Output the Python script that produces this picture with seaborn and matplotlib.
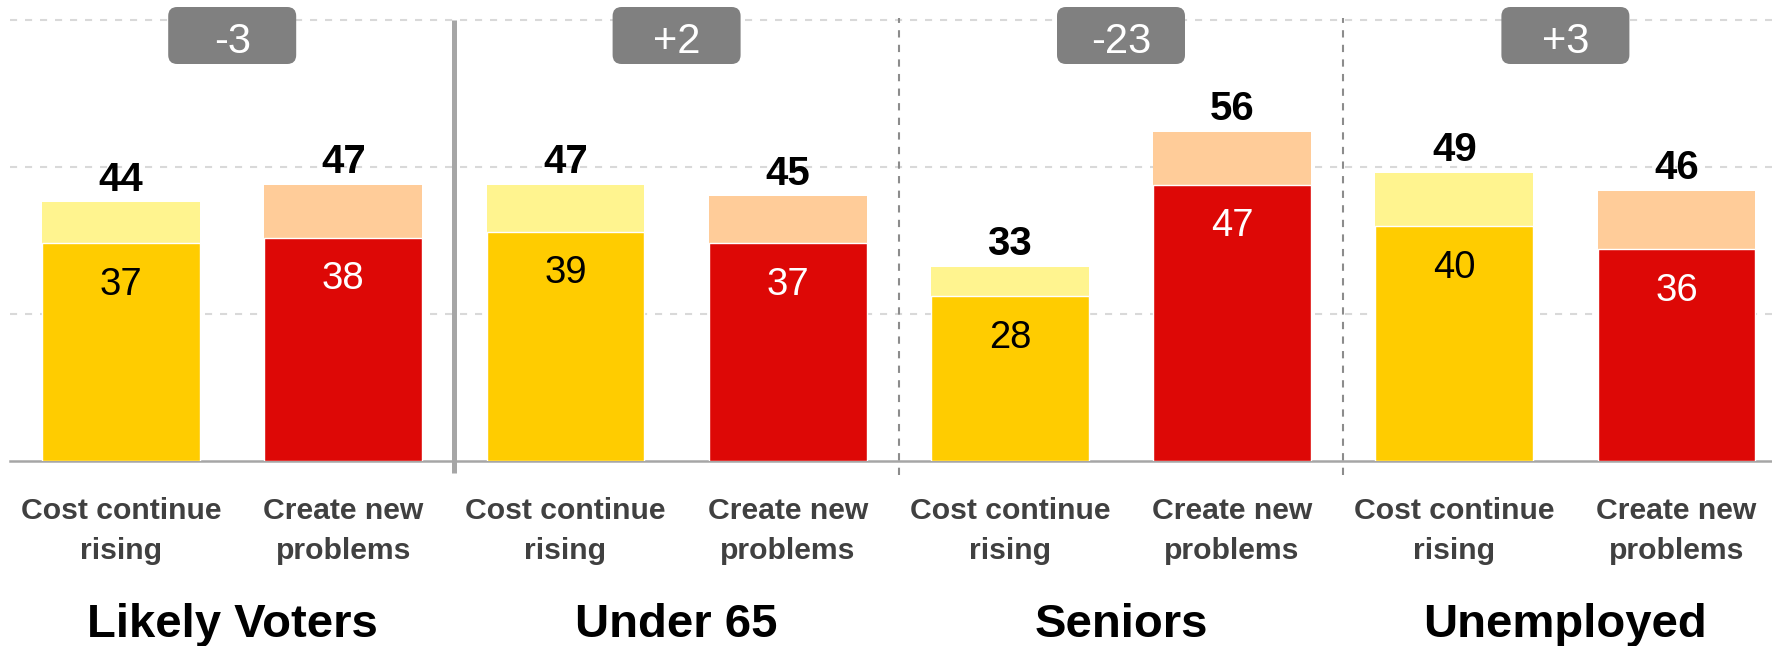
import matplotlib
matplotlib.use("Agg")
import matplotlib.pyplot as plt
from matplotlib.patches import FancyBboxPatch
import seaborn as sns
import pandas as pd

# ---- data ----
groups = ["Likely Voters", "Under 65", "Seniors", "Unemployed"]
categories = ["Cost continue\nrising", "Create new\nproblems"]
total_cost = [44, 47, 33, 49]
total_problems = [47, 45, 56, 46]
strong_cost = [37, 39, 28, 40]
strong_problems = [38, 37, 47, 36]
differences = ["-3", "+2", "-23", "+3"]

light_colors = ["#FFF48F", "#FFCC99"]
dark_colors = ["#FFCC00", "#DD0806"]
inner_text_colors = ["black", "white"]

rows = []
for g, tc, tp, sc, sp in zip(groups, total_cost, total_problems, strong_cost, strong_problems):
    rows.append({"bar": g + "|cost", "group": g, "cat": categories[0], "total": tc, "strong": sc, "k": 0})
    rows.append({"bar": g + "|prob", "group": g, "cat": categories[1], "total": tp, "strong": sp, "k": 1})
df = pd.DataFrame(rows)

sns.set_theme(style="white")
plt.rcParams["font.family"] = ["Liberation Sans", "DejaVu Sans"]

W, H, DPI = 17.72, 6.46, 100
fig = plt.figure(figsize=(W, H), dpi=DPI)
ax = fig.add_axes([10 / 1772, (646 - 461) / 646, 1 - 10 / 1772, 461 / 646])

light_pal = [light_colors[k] for k in df["k"]]
dark_pal = [dark_colors[k] for k in df["k"]]

sns.barplot(data=df, x="bar", y="total", hue="bar", palette=light_pal, width=0.71,
            saturation=1, legend=False, ax=ax, order=list(df["bar"]), hue_order=list(df["bar"]),
            edgecolor="none", linewidth=0, zorder=2)
sns.barplot(data=df, x="bar", y="strong", hue="bar", palette=dark_pal, width=0.71,
            saturation=1, legend=False, ax=ax, order=list(df["bar"]), hue_order=list(df["bar"]),
            edgecolor="white", linewidth=1.0, zorder=3)

n = len(df)
ax.set_xlim(-0.5, -0.5 + 1762 / 222.2)
ax.set_ylim(0, 78.4)

# value labels
for i, r in df.iterrows():
    ax.text(i, r["total"] + 2.0, str(r["total"]), ha="center", va="baseline",
            fontsize=29, fontweight="bold", color="black", zorder=5)
    ax.text(i, r["strong"] - 8.8, str(r["strong"]), ha="center", va="baseline",
            fontsize=27.5, color=inner_text_colors[r["k"]], zorder=5)

# grid
ax.set_yticks([25, 50, 75])
ax.set_yticklabels([])
ax.tick_params(axis="y", length=0)
ax.yaxis.grid(True, color="#D9D9D9", linewidth=1.5, linestyle=(0, (3.4, 3.8)))
ax.xaxis.grid(False)
ax.set_axisbelow(True)

for s in ["left", "right", "top"]:
    ax.spines[s].set_visible(False)
ax.spines["bottom"].set_color("#A6A6A6")
ax.spines["bottom"].set_linewidth(1.8)

# ticks
ax.set_xticks(range(n))
ax.set_xticklabels(list(df["cat"]), fontsize=21.7, fontweight="bold", color="#404040",
                   linespacing=1.55)
ax.tick_params(axis="x", which="major", length=0, pad=26)
ax.set_xticks([i - 0.5 for i in range(n)], minor=True)
ax.tick_params(axis="x", which="minor", length=7.5, width=1.5, color="#A6A6A6")
ax.set_xlabel("")
ax.set_ylabel("")

# separators
ax.plot([1.5, 1.5], [-2.0, 75], color="#A6A6A6", linewidth=3.6, solid_capstyle="butt",
        clip_on=False, zorder=4)
for xs in [3.5, 5.5]:
    ax.plot([xs, xs], [-2.4, 75.4], color="#8C8C8C", linewidth=1.5,
            linestyle=(0, (3.5, 3.5)), clip_on=False, zorder=4)

# difference boxes & group titles
px_per_unit_x = 222.2
px_per_unit_y = 461 / 78.4
bw = 128 / px_per_unit_x
y0 = (461 - 64) / px_per_unit_y
y1 = (461 - 7) / px_per_unit_y
for gi, (g, d) in enumerate(zip(groups, differences)):
    cx = 2 * gi + 0.5
    box = FancyBboxPatch((cx - bw / 2, y0), bw, y1 - y0,
                         boxstyle="round,pad=0,rounding_size=%f" % (9 / px_per_unit_x),
                         mutation_aspect=px_per_unit_x / px_per_unit_y,
                         facecolor="#808080", edgecolor="none", zorder=6, clip_on=False)
    ax.add_patch(box)
    ax.text(cx, (461 - 53) / px_per_unit_y, d, ha="center", va="baseline", fontsize=30,
            color="white", zorder=7)
    ax.text(cx, -(637 - 461) / px_per_unit_y, g, ha="center", va="baseline", fontsize=34,
            fontweight="bold", color="black", clip_on=False)

fig.savefig("out.png", dpi=DPI)
